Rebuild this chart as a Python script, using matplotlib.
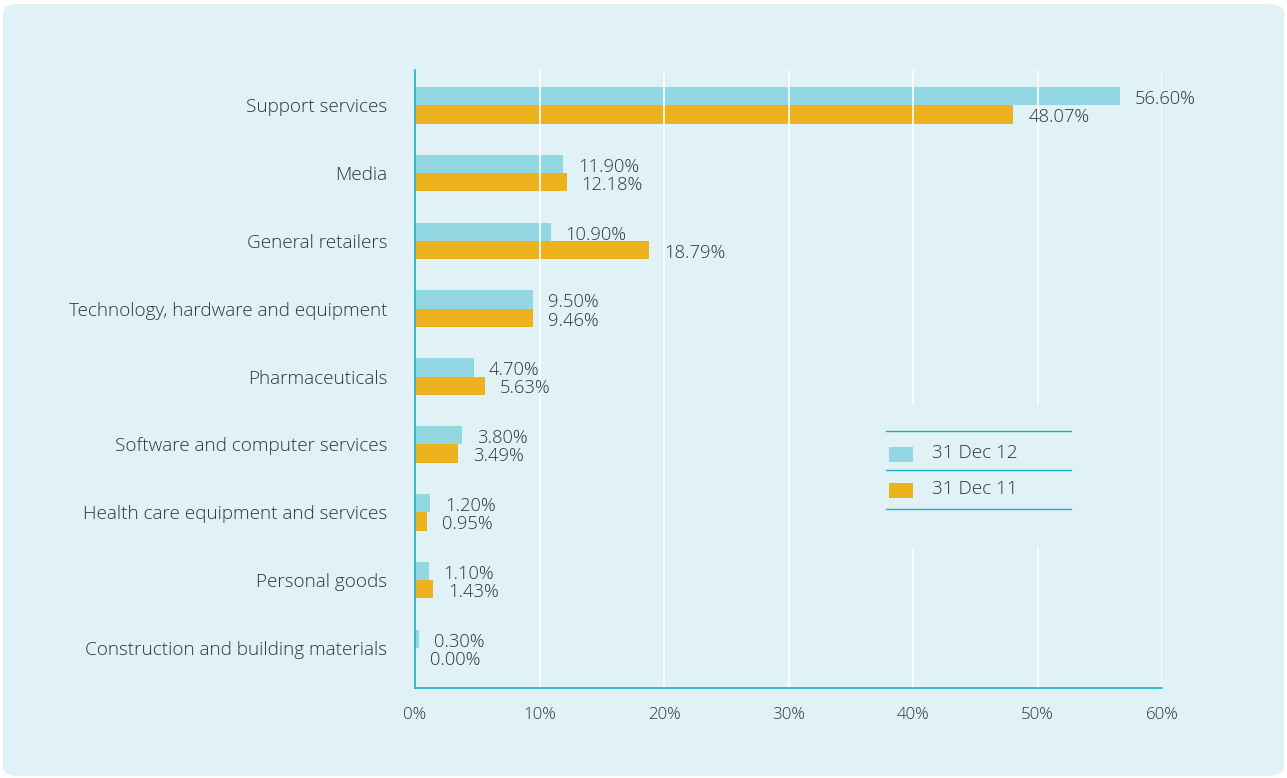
import matplotlib
matplotlib.use('Agg')
import matplotlib.pyplot as plt
from matplotlib.patches import FancyBboxPatch, Rectangle
from matplotlib.lines import Line2D
import numpy as np

# data
sectors = ['Support services', 'Media', 'General retailers',
           'Technology, hardware and equipment', 'Pharmaceuticals',
           'Software and computer services', 'Health care equipment and services',
           'Personal goods', 'Construction and building materials']
dec12 = [56.60, 11.90, 10.90, 9.50, 4.70, 3.80, 1.20, 1.10, 0.30]
dec11 = [48.07, 12.18, 18.79, 9.46, 5.63, 3.49, 0.95, 1.43, 0.00]
series_names = ['31 Dec 12', '31 Dec 11']
xticks = [0, 10, 20, 30, 40, 50, 60]

BG = '#e1f2f7'
BLUE = '#93d7e3'
GOLD = '#ecb21e'
TEAL = '#1ab0c8'
TXT = '#333333'

plt.rcParams['font.family'] = ['Open Sans', 'DejaVu Sans']
plt.rcParams['font.weight'] = 'light'

W, H = 1287, 778
fig = plt.figure(figsize=(W / 100, H / 100), dpi=100)
fig.patch.set_facecolor('white')

def fx(px):
    return px / W

def fy(py):
    return 1 - py / H

# rounded panel
panel = FancyBboxPatch((fx(3), fy(776)), fx(1281), 772 / H,
                       boxstyle='round,pad=0,rounding_size=0.012',
                       transform=fig.transFigure, facecolor=BG, edgecolor='none',
                       zorder=0)
fig.add_artist(panel)

ax = fig.add_axes([fx(415), fy(688), fx(747), (688 - 70) / H])
ax.set_facecolor('none')

y = np.arange(len(sectors))
h = 0.27
ax.barh(y - h / 2, dec12, height=h, color=BLUE, zorder=3)
ax.barh(y + h / 2, dec11, height=h, color=GOLD, zorder=3)

# value labels
for i in range(len(sectors)):
    ax.text(dec12[i] + 1.2, y[i] - h / 2 + 0.04, '%.2f%%' % dec12[i], va='center',
            ha='left', fontsize=13.2, color=TXT, zorder=5)
    ax.text(dec11[i] + 1.2, y[i] + h / 2 + 0.04, '%.2f%%' % dec11[i], va='center',
            ha='left', fontsize=13.2, color=TXT, zorder=5)

ax.set_xlim(0, 60)
ax.set_ylim(len(sectors) - 1 + 0.59, -0.52)
ax.set_yticks(y)
ax.set_yticklabels(sectors, fontsize=13.6, color=TXT)
ax.set_xticks(xticks)
ax.set_xticklabels(['%d%%' % t for t in xticks], fontsize=12.2, color=TXT)
ax.tick_params(axis='both', length=0)
ax.tick_params(axis='y', pad=20)
ax.tick_params(axis='x', pad=14)

# white gridlines sit over the bars
for t in xticks[1:]:
    ax.axvline(t, color='white', lw=1.2, zorder=3.5)

for s in ['top', 'right']:
    ax.spines[s].set_visible(False)
for s in ['left', 'bottom']:
    ax.spines[s].set_color(TEAL)
    ax.spines[s].set_linewidth(1.2)
    ax.spines[s].set_zorder(4)

# legend box (covers gridlines)
fig.add_artist(Rectangle((fx(880), fy(548)), fx(200), (548 - 405) / H,
                         transform=fig.transFigure, facecolor=BG,
                         edgecolor='none', zorder=2))
for ly in [431, 470, 509]:
    fig.add_artist(Line2D([fx(886), fx(1071)], [fy(ly), fy(ly)],
                          transform=fig.transFigure, color=TEAL, lw=1, zorder=3))
for col, name, cy in [(BLUE, series_names[0], 454), (GOLD, series_names[1], 490)]:
    fig.add_artist(Rectangle((fx(889), fy(cy + 7.5)), fx(24), 15 / H,
                             transform=fig.transFigure, facecolor=col,
                             edgecolor='none', zorder=3))
    fig.text(fx(932), fy(cy - 1), name, fontsize=13.6, color=TXT,
             va='center', ha='left', zorder=3)

fig.savefig('out.png', dpi=100, facecolor=fig.get_facecolor())
